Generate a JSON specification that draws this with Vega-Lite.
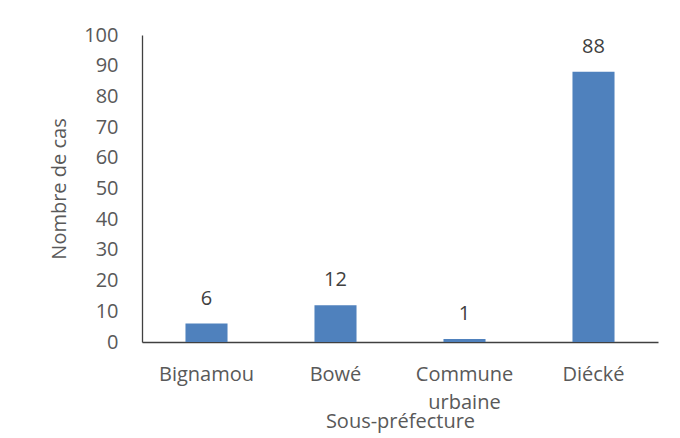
{
  "$schema": "https://vega.github.io/schema/vega-lite/v6.json",
  "width": 516,
  "height": 307,
  "autosize": {"type": "none"},
  "padding": {"left": 142, "top": 35, "right": 22, "bottom": 96},
  "background": "white",
  "config": {
    "view": {"stroke": null},
    "font": "Open Sans",
    "axis": {"labelFont": "Open Sans", "titleFont": "Open Sans", "labelFontSize": 20, "titleFontSize": 20, "labelColor": "#595959", "titleColor": "#595959", "titleFontWeight": "normal", "grid": false, "ticks": false, "tickSize": 0, "domainColor": "#404040", "domainWidth": 1.3}
  },
  "data": {"values": [
    {"zone": "Bignamou", "cas": 6},
    {"zone": "Bowé", "cas": 12},
    {"zone": "Commune urbaine", "cas": 1},
    {"zone": "Diécké", "cas": 88}
  ]},
  "encoding": {
    "x": {"field": "zone", "type": "nominal", "sort": null,
      "scale": {"paddingInner": 0.674, "paddingOuter": 0.337},
      "axis": {"title": "Sous-préfecture", "labelAngle": 0, "labelPadding": 22, "labelExpr": "split(datum.label, ' ')", "labelLineHeight": 28, "titleY": 79, "titleBaseline": "middle"}},
    "y": {"field": "cas", "type": "quantitative",
      "scale": {"domain": [0, 100], "nice": false},
      "axis": {"title": "Nombre de cas", "values": [0,10,20,30,40,50,60,70,80,90,100], "labelPadding": 24, "titlePadding": 14}}
  },
  "layer": [
    {"mark": {"type": "bar", "color": "#4F81BD"}},
    {"mark": {"type": "text", "baseline": "middle", "dy": -25, "fontSize": 20, "color": "#404040", "font": "Open Sans"},
      "encoding": {"text": {"field": "cas", "type": "quantitative"}}}
  ]
}
